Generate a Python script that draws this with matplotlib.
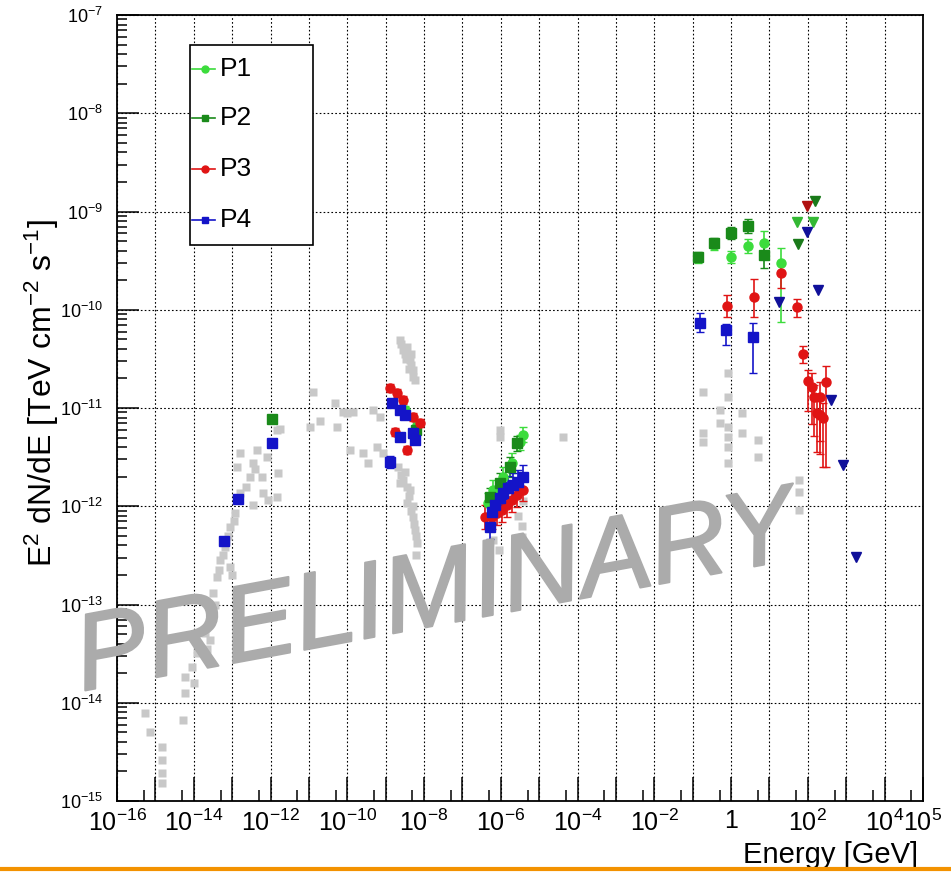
import numpy as np
import matplotlib
matplotlib.use("Agg")
import matplotlib.pyplot as plt
import matplotlib.patheffects as pe
from matplotlib.lines import Line2D
from matplotlib.patches import Rectangle
from matplotlib.ticker import FixedLocator, FixedFormatter, NullFormatter

plt.rcParams['font.family'] = ['Liberation Sans', 'DejaVu Sans']
plt.rcParams['mathtext.fontset'] = 'custom'
plt.rcParams['mathtext.rm'] = 'Liberation Sans'
plt.rcParams['mathtext.it'] = 'Liberation Sans:italic'
plt.rcParams['mathtext.bf'] = 'Liberation Sans:bold'

# ---- data (log10 E [GeV], log10 E^2 dN/dE [TeV cm^-2 s^-1]) ----
# archival points (grey)
arch_logE = [-15.27, -15.14, -14.83, -14.83, -14.83, -14.83, -14.28, -14.23, -14.23, -14.05,
             -14.00, -13.92, -13.71, -13.65, -13.58, -13.58, -13.50, -13.45, -13.39, -13.32,
             -13.25, -13.19, -13.10, -13.06, -13.06, -13.00, -12.93, -12.87, -12.80, -12.80,
             -12.53, -12.46, -12.46, -12.35, -12.22, -12.20, -12.09, -12.07, -11.83, -11.83,
             -11.80, -11.75,
             -13.55, -13.35, -13.15, -12.95, -12.65, -12.40,
             -10.89, -10.71, -10.97, -10.32, -10.27, -10.11, -10.01, -9.93, -9.85, -9.59,
             -9.46, -9.33, -9.23, -9.15, -9.07,
             -8.63, -8.55, -8.50, -8.44, -8.37, -8.33, -8.29, -8.24,
             -8.60, -8.47, -8.40, -8.30, -8.35,
             -8.68, -8.63, -8.55, -8.50, -8.44, -8.40, -8.37, -8.30, -8.29, -8.24, -8.20, -8.18,
             -8.60, -8.45, -8.35, -8.27, -8.22,
             -6.02, -6.02, -5.55, -5.45, -5.45, -5.42, -6.20, -6.05, -4.38,
             -0.73, -0.73, -0.73, -0.29, -0.29, -0.08, -0.08, -0.08, -0.08, -0.08, -0.08,
             0.28, 0.28, 0.70, 0.70, 1.77, 1.77, 1.77]
arch_logF = [-14.10, -14.30, -14.45, -14.58, -14.71, -14.82, -14.18, -13.74, -13.90, -13.64,
             -13.80, -13.49, -13.29, -13.45, -13.13, -13.36, -12.88, -13.00, -12.72, -12.55,
             -12.50, -12.41, -12.30, -12.21, -12.62, -12.70, -12.07, -11.60, -11.87, -11.46,
             -11.70, -11.56, -11.99, -11.43, -11.70, -11.87, -11.50, -11.94, -11.91, -11.22,
             -11.66, -11.21,
             -13.05, -12.65, -12.35, -12.15, -11.80, -11.62,
             -10.84, -11.13, -11.19, -10.95, -11.19, -11.04, -11.05, -11.43, -11.04, -11.46,
             -11.56, -11.02, -11.40, -11.09, -11.46,
             -10.31, -10.41, -10.45, -10.38, -10.51, -10.56, -10.61, -10.72,
             -10.35, -10.50, -10.60, -10.68, -10.45,
             -11.60, -11.76, -11.73, -11.65, -11.97, -11.90, -11.83, -12.00, -12.11, -12.24, -12.50, -12.37,
             -11.68, -11.80, -12.05, -12.18, -12.30,
             -11.22, -11.30, -12.10, -12.20, -12.31, -11.95, -12.34, -12.45, -11.30,
             -10.84, -11.25, -11.35, -11.02, -11.15, -10.64, -10.89, -11.19, -11.30, -11.40, -11.56,
             -11.05, -11.25, -11.33, -11.50, -11.73, -11.85, -12.04]

# P1
p1_logE = [-8.50, -8.18,
           -6.33, -6.20, -5.94, -5.71, -5.50, -5.42,
           -0.86, -0.44, 0.00, 0.44, 0.86, 1.30]
p1_logF = [-11.02, -11.17,
           -11.97, -11.83, -11.70, -11.56, -11.35, -11.27,
           -9.47, -9.34, -9.46, -9.35, -9.32, -9.52]
p1_err_lo = [0.04, 0.04, 0.10, 0.10, 0.10, 0.10, 0.08, 0.08, 0.05, 0.05, 0.06, 0.07, 0.12, 0.60]
p1_err_hi = [0.04, 0.04, 0.10, 0.10, 0.10, 0.10, 0.08, 0.08, 0.05, 0.05, 0.06, 0.07, 0.12, 0.15]
p1_ul_logE = [1.72, 2.14]
p1_ul_logF = [-9.11, -9.11]

# P2
p2_logE = [-11.96, -8.20,
           -6.28, -6.02, -5.76, -5.58,
           -0.86, -0.44, 0.00, 0.44, 0.86]
p2_logF = [-11.11, -11.22,
           -11.91, -11.76, -11.60, -11.36,
           -9.46, -9.32, -9.22, -9.15, -9.44]
p2_err_lo = [0.04, 0.04, 0.10, 0.10, 0.10, 0.08, 0.05, 0.05, 0.06, 0.07, 0.14]
p2_err_hi = [0.04, 0.04, 0.10, 0.10, 0.10, 0.08, 0.05, 0.05, 0.06, 0.07, 0.14]
p2_ul_logE = [1.75, 2.19]
p2_ul_logF = [-9.33, -8.89]

# P3
p3_logE = [-8.89, -8.71, -8.55, -8.29, -8.11, -8.76, -8.44, -8.24,
           -6.41, -6.23, -6.10, -5.97, -5.84, -5.71, -5.58, -5.42,
           -0.11, 0.60, 1.30, 1.72, 1.88, 2.00, 2.11, 2.16, 2.24, 2.32, 2.40, 2.32, 2.47]
p3_logF = [-10.80, -10.85, -10.92, -11.09, -11.15, -11.24, -11.43, -11.31,
           -12.11, -12.11, -12.07, -12.04, -11.99, -11.94, -11.89, -11.83,
           -9.96, -9.87, -9.63, -9.97, -10.45, -10.73, -10.79, -10.89, -11.05, -11.07, -11.10, -10.89, -10.74]
p3_err_lo = [0.04, 0.04, 0.04, 0.04, 0.04, 0.04, 0.04, 0.04,
             0.12, 0.12, 0.12, 0.12, 0.12, 0.12, 0.12, 0.12,
             0.11, 0.20, 0.15, 0.10, 0.09, 0.30, 0.37, 0.40, 0.40, 0.40, 0.50, 0.45, 0.86]
p3_err_hi = [0.04, 0.04, 0.04, 0.04, 0.04, 0.04, 0.04, 0.04,
             0.12, 0.12, 0.12, 0.12, 0.12, 0.12, 0.12, 0.12,
             0.11, 0.18, 0.10, 0.08, 0.08, 0.12, 0.15, 0.12, 0.12, 0.15, 0.15, 0.15, 0.17]
p3_ul_logE = [1.98]
p3_ul_logF = [-8.94]

# P4
p4_logE = [-13.21, -12.85, -11.96,
           -8.83, -8.63, -8.50, -8.63, -8.29, -8.24, -8.89,
           -6.28, -6.23, -6.15, -6.02, -5.94, -5.81, -5.68, -5.55, -5.42,
           -0.81, -0.13, 0.57]
p4_logF = [-12.35, -11.93, -11.36,
           -10.95, -11.02, -11.07, -11.30, -11.25, -11.33, -11.55,
           -12.21, -12.06, -11.99, -11.92, -11.87, -11.81, -11.78, -11.75, -11.70,
           -10.13, -10.21, -10.28]
p4_err_lo = [0.04, 0.04, 0.04, 0.04, 0.04, 0.04, 0.04, 0.04, 0.04, 0.06,
             0.12, 0.12, 0.12, 0.12, 0.12, 0.12, 0.12, 0.12, 0.12,
             0.10, 0.15, 0.36]
p4_err_hi = [0.04, 0.04, 0.04, 0.04, 0.04, 0.04, 0.04, 0.04, 0.04, 0.06,
             0.12, 0.12, 0.12, 0.12, 0.12, 0.12, 0.12, 0.12, 0.12,
             0.10, 0.06, 0.15]
p4_ul_logE = [1.25, 1.98, 2.27, 2.60, 2.92, 3.25]
p4_ul_logF = [-9.92, -9.21, -9.80, -10.92, -11.58, -12.52]

x_tick_exp = list(range(-16, 6))
x_label_exp = [-16, -14, -12, -10, -8, -6, -4, -2, 0, 2, 4, 5]
y_tick_exp = list(range(-15, -6))

periods = [
    ("P1", p1_logE, p1_logF, p1_err_lo, p1_err_hi, p1_ul_logE, p1_ul_logF, '#3cdc3c', '#33b833', 'o'),
    ("P2", p2_logE, p2_logF, p2_err_lo, p2_err_hi, p2_ul_logE, p2_ul_logF, '#1a8a1a', '#1a7a1a', 's'),
    ("P3", p3_logE, p3_logF, p3_err_lo, p3_err_hi, p3_ul_logE, p3_ul_logF, '#e01414', '#b01010', 'o'),
    ("P4", p4_logE, p4_logF, p4_err_lo, p4_err_hi, p4_ul_logE, p4_ul_logF, '#1414c8', '#10109a', 's'),
]


def main():
    fig = plt.figure(figsize=(9.51, 8.75), dpi=100)
    ax = fig.add_axes([117 / 951, 74 / 875, 806 / 951, 786 / 875])

    # archival data
    ax.plot(np.power(10.0, arch_logE), np.power(10.0, arch_logF), 's', ms=6,
            color='#c8c8c8', mec='none', zorder=2)

    for name, le, lf, elo, ehi, ule, ulf, col, ulcol, mk in periods:
        E = np.power(10.0, np.array(le))
        F = np.power(10.0, np.array(lf))
        lo = F - np.power(10.0, np.array(lf) - np.array(elo))
        hi = np.power(10.0, np.array(lf) + np.array(ehi)) - F
        ax.errorbar(E, F, yerr=[lo, hi], fmt=mk, ms=6.5, color=col, ecolor=col,
                    elinewidth=1.2, capsize=3, mec=col, zorder=4)
        ax.plot(np.power(10.0, ule), np.power(10.0, ulf), 'v', ms=6.5,
                color=ulcol, mec=ulcol, zorder=4)

    ax.set_xscale('log')
    ax.set_yscale('log')
    ax.set_xlim(1e-16, 1e5)
    ax.set_ylim(1e-15, 1e-7)

    # x ticks (ROOT style)
    ax.xaxis.set_major_locator(FixedLocator([10.0 ** e for e in x_tick_exp]))
    xlabels = []
    for e in x_tick_exp:
        if e not in x_label_exp:
            xlabels.append('')
        elif e == 0:
            xlabels.append('1')
        else:
            xlabels.append('$10^{%d}$' % e)
    ax.xaxis.set_major_formatter(FixedFormatter(xlabels))
    ax.xaxis.set_minor_locator(FixedLocator([5 * 10.0 ** e for e in x_tick_exp]))
    ax.xaxis.set_minor_formatter(NullFormatter())

    ax.yaxis.set_major_locator(FixedLocator([10.0 ** e for e in y_tick_exp]))
    ax.yaxis.set_major_formatter(FixedFormatter(['$10^{%d}$' % e for e in y_tick_exp]))
    ax.yaxis.set_minor_locator(FixedLocator([m * 10.0 ** e for e in y_tick_exp[:-1] for m in range(2, 10)]))
    ax.yaxis.set_minor_formatter(NullFormatter())

    ax.tick_params(axis='x', which='major', direction='in', length=17, width=1.1,
                   labelsize=18, pad=6, top=False)
    ax.tick_params(axis='x', which='minor', direction='in', length=8, width=1.1, top=False)
    ax.tick_params(axis='y', which='major', direction='in', length=16, width=1.1,
                   labelsize=13, pad=10, right=False)
    ax.tick_params(axis='y', which='minor', direction='in', length=7, width=1.1, right=False)
    for s in ax.spines.values():
        s.set_linewidth(1.3)

    ax.grid(True, which='major', color='black', linestyle=(0, (1.5, 2)), linewidth=0.8, zorder=1)
    ax.set_axisbelow(True)

    # legend (ROOT-like box)
    ax.add_patch(Rectangle((0.0906, 0.707), 0.1526, 0.255, transform=ax.transAxes,
                           facecolor='white', edgecolor='black', lw=1.2, zorder=6))
    leg_y = [0.931, 0.869, 0.804, 0.739]
    for (name, le, lf, elo, ehi, ule, ulf, col, ulcol, mk), yy in zip(periods, leg_y):
        ax.add_line(Line2D([0.0931, 0.1216], [yy, yy], transform=ax.transAxes,
                           color=col, lw=1.2, zorder=7))
        ax.add_line(Line2D([0.1092], [yy], transform=ax.transAxes, marker=mk, ms=5,
                           color=col, mec=col, zorder=7))
        ax.text(0.128, yy, name, transform=ax.transAxes, fontsize=19,
                va='center', ha='left', zorder=7)

    fig.text(42 / 951, 1 - 393 / 875, 'E$^{2}$ dN/dE [TeV cm$^{-2}$ s$^{-1}$]',
             rotation=90, ha='center', va='center', fontsize=23)

    fig.text(918 / 951, 12 / 875, 'Energy [GeV]', ha='right', va='baseline', fontsize=21)

    # watermark
    fig.text(82 / 951, (875 - 691) / 875, 'PRELIMINARY', fontsize=78, style='italic',
             rotation=10.5, rotation_mode='anchor', ha='left', va='baseline',
             color='#ababab', zorder=10,
             path_effects=[pe.withStroke(linewidth=1.5, foreground='#ababab')])

    # orange bar at the bottom
    fig.add_artist(Line2D([0, 1], [6 / 875, 6 / 875], transform=fig.transFigure,
                          color='#f39200', lw=3, zorder=11))

    fig.savefig('out.png', dpi=100)


if __name__ == "__main__":
    main()
